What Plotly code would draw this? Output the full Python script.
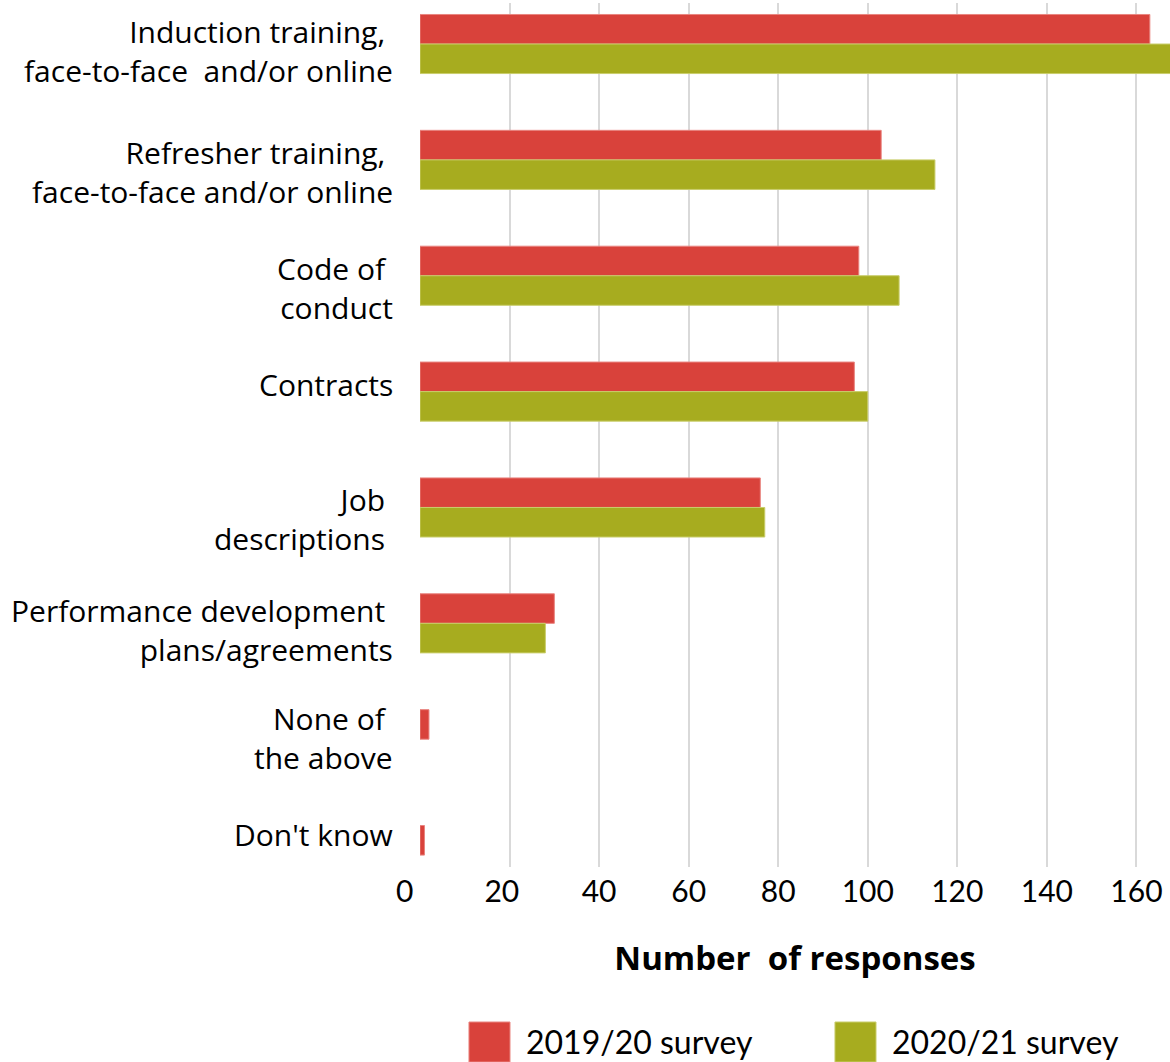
import plotly.graph_objects as go

# Survey answers, top to bottom
categories = [
    "Induction training,\u00a0<br>face-to-face\u00a0 and/or online",
    "Refresher training,\u00a0<br>face-to-face and/or online",
    "Code of\u00a0<br>conduct",
    "Contracts",
    "Job\u00a0<br>descriptions\u00a0",
    "Performance development\u00a0<br>plans/agreements",
    "None of\u00a0<br>the above",
    "Don't know",
]
survey_2019_20 = [163, 103, 98, 97, 76, 30, 2, 1]
survey_2020_21 = [168, 115, 107, 100, 77, 28, 0, 0]
series_names = ["2019/20 survey", "2020/21 survey"]
x_ticks = [0, 20, 40, 60, 80, 100, 120, 140, 160]
x_tick_labels = ["0", "20", "40", "60", "80", "100", "120", "140", "160"]

RED = "#D9423B"
RED_EDGE = "#E98580"
GREEN = "#A7AC1F"
GREEN_EDGE = "#C9CD6A"

LABEL_FONT = "'Open Sans', 'Noto Sans', sans-serif"
NUM_FONT = "Lato, 'Liberation Sans', sans-serif"


def edge_widths(values):
    # no outline on empty bars so nothing shows at zero
    return [1 if v > 0 else 0 for v in values]


fig = go.Figure()
fig.add_trace(go.Bar(
    y=categories, x=survey_2019_20, name=series_names[0], orientation="h",
    marker=dict(color=RED, line=dict(color=RED_EDGE, width=edge_widths(survey_2019_20))),
    showlegend=False,
))
fig.add_trace(go.Bar(
    y=categories, x=survey_2020_21, name=series_names[1], orientation="h",
    marker=dict(color=GREEN, line=dict(color=GREEN_EDGE, width=edge_widths(survey_2020_21))),
    showlegend=False,
))

fig.update_layout(
    width=1170, height=1062,
    margin=dict(l=420, r=0, t=3, b=195),
    paper_bgcolor="white", plot_bgcolor="white",
    barmode="group", bargap=0.49, bargroupgap=0,
    font=dict(family=LABEL_FONT, color="black"),
)

# the first two tick labels sit a little left of their gridlines
tick_pad = {"0": 4, "20": 2}
tick_text = [t + "\u00a0" * tick_pad.get(t, 0) for t in x_tick_labels]

fig.update_xaxes(
    range=[0, 167.5],
    tickvals=x_ticks, ticktext=tick_text,
    tickfont=dict(family=NUM_FONT, size=30, color="black"),
    ticklabelstandoff=4,
    showgrid=True, gridcolor="#d9d9d9", gridwidth=2,
    zeroline=False, showline=False, ticks="",
    title=dict(text="<b>Number\u00a0 of responses</b>",
               font=dict(family=LABEL_FONT, size=33, color="black"),
               standoff=39),
)
fig.update_yaxes(
    categoryorder="array", categoryarray=categories,
    range=[7.103, -0.354],
    showticklabels=False,
    ticks="", showgrid=False, zeroline=False, showline=False,
)

# Category labels set beside each pair of bars (vertical nudge in px, + = down)
label_nudge_px = [7, 12, 12, -7, 12, 7, -1, -21]
for cat, nudge in zip(categories, label_nudge_px):
    fig.add_annotation(
        x=0, xref="paper", xanchor="right", xshift=-25,
        y=cat, yref="y", yanchor="middle", yshift=-nudge,
        text=cat, align="right", showarrow=False,
        font=dict(family=LABEL_FONT, size=30, color="black"),
    )

# Legend drawn as large swatches under the axis title
legend_items = [
    (series_names[0], RED, RED_EDGE, 0.0653),
    (series_names[1], GREEN, GREEN_EDGE, 0.5533),
]
for label, fill, edge, x0 in legend_items:
    fig.add_shape(type="rect", xref="paper", yref="paper",
                  x0=x0, x1=x0 + 0.0547, y0=-0.2257, y1=-0.1794,
                  fillcolor=fill, line=dict(color=edge, width=1))
    fig.add_annotation(x=x0 + 0.0734, y=-0.2025, xref="paper", yref="paper",
                       text=label, showarrow=False, xanchor="left", yanchor="middle",
                       font=dict(family=NUM_FONT, size=32, color="black"))

fig.write_html("out.html")
